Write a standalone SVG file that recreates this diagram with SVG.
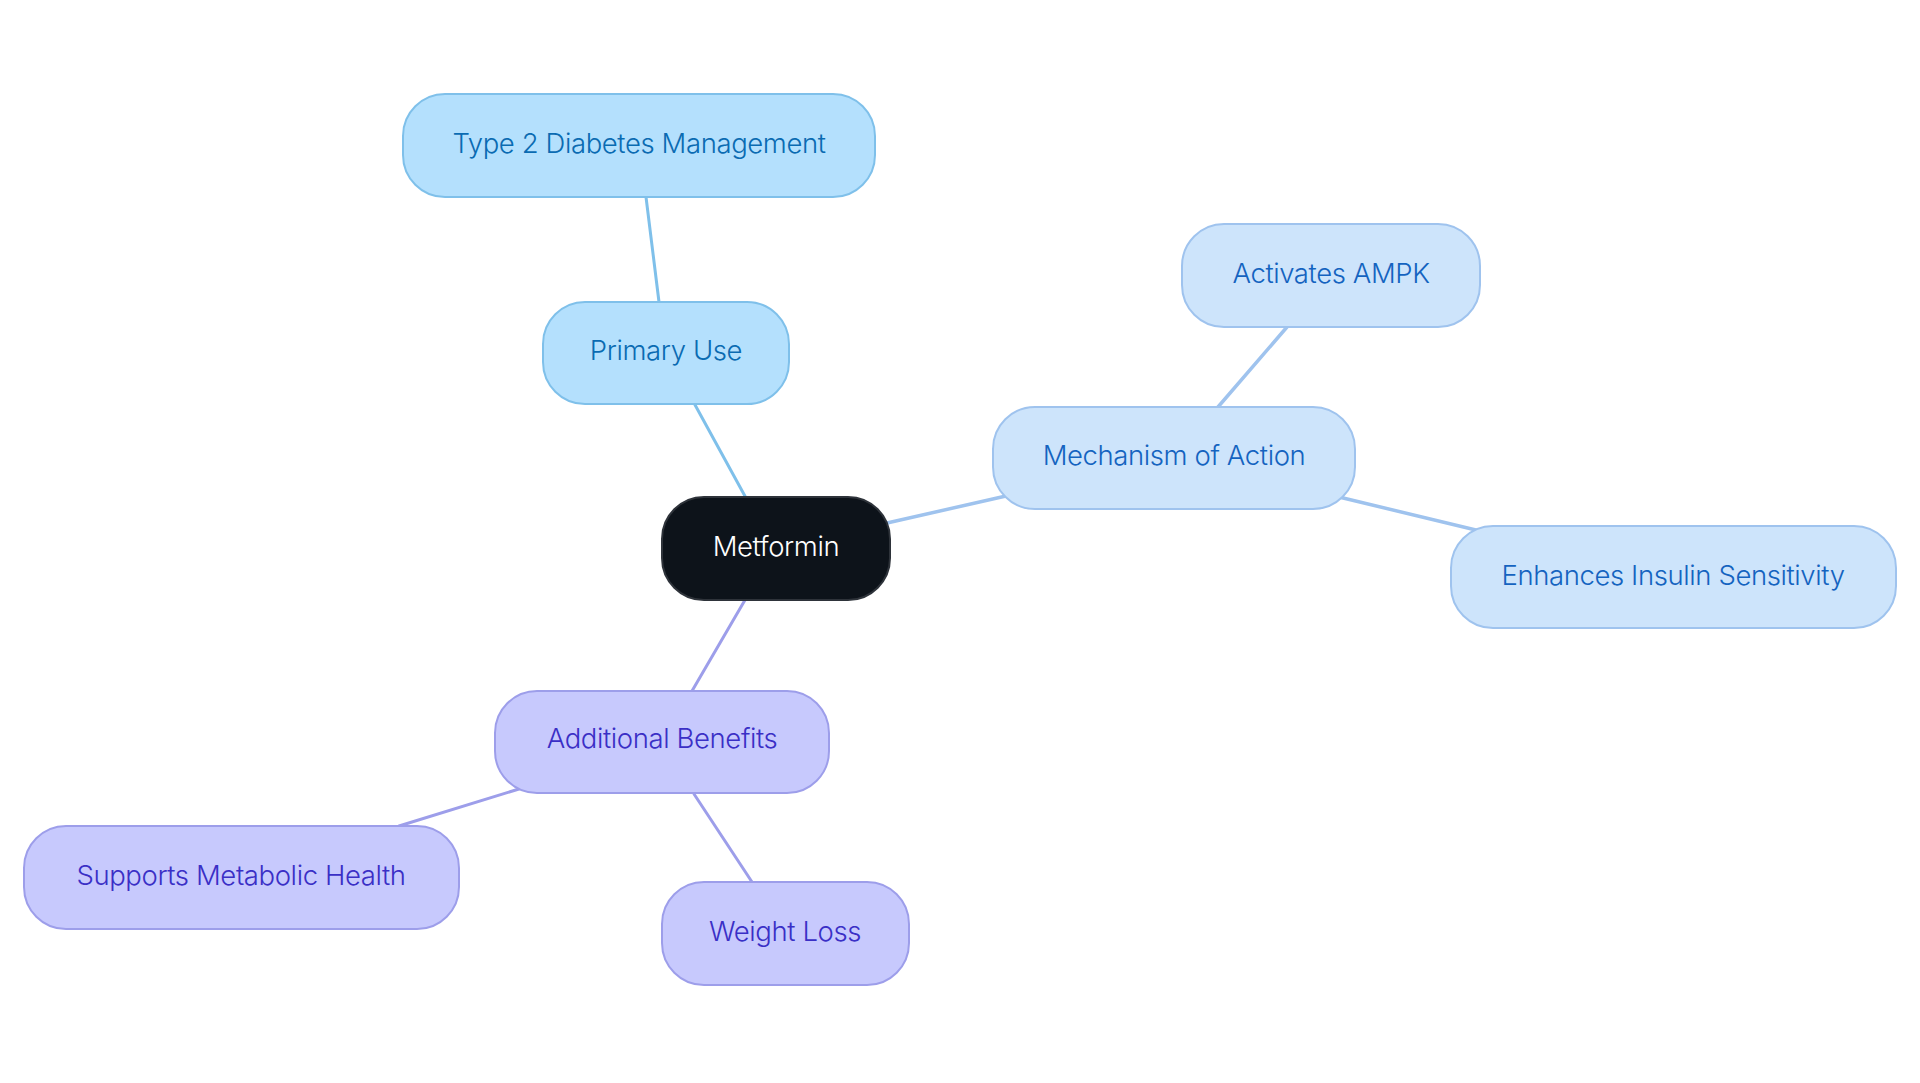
<svg xmlns="http://www.w3.org/2000/svg" width="1920" height="1083" viewBox="0 0 1920 1083">
<style>
  text { font-family: Inter, "Noto Sans", "Liberation Sans", sans-serif; font-size: 27.5px; letter-spacing: -0.4px; font-weight: 300; text-anchor: middle; }
  .n rect { stroke-width: 2; }
  .s1 rect { fill: #b4e0fd; stroke: #7fc0ea; }
  .s1 text { fill: #0a6bb2; }
  .s2 rect { fill: #cde4fb; stroke: #9fc3ee; }
  .s2 text { fill: #1463c0; }
  .s3 rect { fill: #c7c9fd; stroke: #9d9eea; }
  .s3 text { fill: #3a2fc6; }
  .root rect { fill: #0d131a; stroke: #2e333a; }
  .root text { fill: #ffffff; }
  .e { fill: none; stroke-width: 3; stroke-linecap: round; }
  .e1 { stroke: #7fc0ea; }
  .e2 { stroke: #9fc3ee; stroke-width: 3.5; }
  .e3 { stroke: #9d9eea; }
</style>
<rect width="1920" height="1083" fill="#ffffff"/>
<g id="connectors">
  <line class="e e1" x1="746" y1="498" x2="694" y2="403"/>
  <line class="e e1" x1="659" y1="302" x2="646" y2="197"/>
  <line class="e e2" x1="887" y1="523" x2="1006" y2="496"/>
  <line class="e e2" x1="1218" y1="407" x2="1287" y2="327"/>
  <line class="e e2" x1="1339" y1="497" x2="1480" y2="531"/>
  <line class="e e3" x1="745" y1="600" x2="692" y2="691"/>
  <line class="e e3" x1="519" y1="789" x2="399" y2="826"/>
  <line class="e e3" x1="694" y1="794" x2="752" y2="882"/>
</g>
<g id="node-metformin" class="n root">
  <rect x="662" y="497" width="228" height="103" rx="42"/>
  <text x="776" y="556">Metformin</text>
</g>
<g id="node-primary-use" class="n s1">
  <rect x="543" y="302" width="246" height="102" rx="42"/>
  <text x="666" y="360">Primary Use</text>
</g>
<g id="node-type2" class="n s1">
  <rect x="403" y="94" width="472" height="103" rx="42"/>
  <text x="639" y="153">Type 2 Diabetes Management</text>
</g>
<g id="node-mechanism" class="n s2">
  <rect x="993" y="407" width="362" height="102" rx="42"/>
  <text x="1174" y="465">Mechanism of Action</text>
</g>
<g id="node-ampk" class="n s2">
  <rect x="1182" y="224" width="298" height="103" rx="42"/>
  <text x="1331" y="283">Activates AMPK</text>
</g>
<g id="node-insulin" class="n s2">
  <rect x="1451" y="526" width="445" height="102" rx="42"/>
  <text x="1673" y="585">Enhances Insulin Sensitivity</text>
</g>
<g id="node-additional" class="n s3">
  <rect x="495" y="691" width="334" height="102" rx="42"/>
  <text x="662" y="748">Additional Benefits</text>
</g>
<g id="node-metabolic" class="n s3">
  <rect x="24" y="826" width="435" height="103" rx="42"/>
  <text x="241" y="885">Supports Metabolic Health</text>
</g>
<g id="node-weight" class="n s3">
  <rect x="662" y="882" width="247" height="103" rx="42"/>
  <text x="785" y="941">Weight Loss</text>
</g>
</svg>
